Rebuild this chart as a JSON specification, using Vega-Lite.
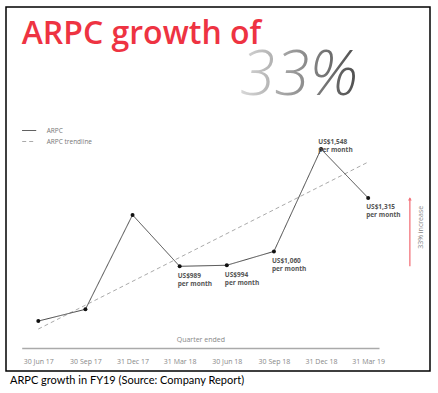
{
  "$schema": "https://vega.github.io/schema/vega-lite/v6.json",
  "autosize": {"type": "none"},
  "padding": {"left": 6, "top": 7, "right": 8, "bottom": 22},
  "width": 424,
  "height": 364,
  "background": "white",
  "config": {
    "view": {"stroke": "#000", "strokeWidth": 1.5},
    "font": "Open Sans",
    "text": {"lineBreak": "\n"},
    "legend": {
      "orient": "none", "legendX": 15.7, "legendY": 116, "title": null,
      "symbolType": "stroke", "symbolSize": 196, "symbolStrokeWidth": 1,
      "labelFontSize": 6.5, "labelColor": "#777777", "labelOffset": 10,
      "rowPadding": -4, "labelFont": "Open Sans"
    }
  },
  "datasets": {
    "arpc": [
      {"q": "30 Jun 17", "i": 0, "arpc": 728},
      {"q": "30 Sep 17", "i": 1, "arpc": 784},
      {"q": "31 Dec 17", "i": 2, "arpc": 1234},
      {"q": "31 Mar 18", "i": 3, "arpc": 989, "label": "US$989\nper month"},
      {"q": "30 Jun 18", "i": 4, "arpc": 994, "label": "US$994\nper month"},
      {"q": "30 Sep 18", "i": 5, "arpc": 1060, "label": "US$1,060\nper month"},
      {"q": "31 Dec 18", "i": 6, "arpc": 1548, "label": "US$1,548\nper month"},
      {"q": "31 Mar 19", "i": 7, "arpc": 1315, "label": "US$1,315\nper month"}
    ],
    "trend": [
      {"i": 0, "trend": 690},
      {"i": 7, "trend": 1486}
    ],
    "increase": [
      {"from": 989, "to": 1315, "text": "33% increase"}
    ]
  },
  "layer": [
    {
      "data": {"name": "trend"},
      "mark": {"type": "line", "strokeWidth": 1},
      "encoding": {
        "x": {
          "field": "i", "type": "quantitative",
          "scale": {"domain": [-0.352, 7.23], "range": [15.7, 373], "nice": false, "zero": false},
          "axis": {
            "values": [0, 1, 2, 3, 4, 5, 6, 7],
            "labelExpr": "['30 Jun 17','30 Sep 17','31 Dec 17','31 Mar 18','30 Jun 18','30 Sep 18','31 Dec 18','31 Mar 19'][datum.value]",
            "offset": -23,
            "ticks": false,
            "tickSize": 0,
            "grid": false,
            "domainColor": "#aaaaaa",
            "domainWidth": 1.5,
            "labelFontSize": 7,
            "labelColor": "#888888",
            "labelPadding": 9,
            "labelFont": "Open Sans",
            "title": "Quarter ended",
            "titleY": -7,
            "titleBaseline": "alphabetic",
            "titleFontSize": 7,
            "titleFontWeight": "normal",
            "titleColor": "#888888",
            "titleFont": "Open Sans"
          }
        },
        "y": {
          "field": "trend", "type": "quantitative",
          "scale": {"domain": [490, 2225], "nice": false, "zero": false},
          "axis": null
        },
        "strokeDash": {
          "datum": "ARPC trendline",
          "scale": {"domain": ["ARPC", "ARPC trendline"], "range": [[1, 0], [4, 3]]}
        },
        "color": {
          "datum": "ARPC trendline",
          "scale": {"domain": ["ARPC", "ARPC trendline"], "range": ["#444444", "#aaaaaa"]}
        }
      }
    },
    {
      "data": {"name": "arpc"},
      "mark": {"type": "line", "strokeWidth": 1},
      "encoding": {
        "x": {"field": "i", "type": "quantitative"},
        "y": {"field": "arpc", "type": "quantitative"},
        "strokeDash": {"datum": "ARPC"},
        "color": {"datum": "ARPC"}
      }
    },
    {
      "data": {"name": "arpc"},
      "mark": {"type": "point", "filled": true, "size": 16, "color": "#111111", "opacity": 1},
      "encoding": {
        "x": {"field": "i", "type": "quantitative"},
        "y": {"field": "arpc", "type": "quantitative"}
      }
    },
    {
      "data": {"name": "arpc"},
      "transform": [{"filter": "datum.label && datum.q != '31 Dec 18'"}],
      "mark": {"type": "text", "align": "left", "baseline": "top", "dx": -2, "dy": 6.5, "fontSize": 6.5, "fontWeight": "bold", "color": "#555555", "lineHeight": 8},
      "encoding": {
        "x": {"field": "i", "type": "quantitative"},
        "y": {"field": "arpc", "type": "quantitative"},
        "text": {"field": "label"}
      }
    },
    {
      "data": {"name": "arpc"},
      "transform": [{"filter": "datum.q == '31 Dec 18'"}],
      "mark": {"type": "text", "align": "left", "baseline": "bottom", "dx": -2.7, "dy": -4, "fontSize": 6.5, "fontWeight": "bold", "color": "#555555", "lineHeight": 8},
      "encoding": {
        "x": {"field": "i", "type": "quantitative"},
        "y": {"field": "arpc", "type": "quantitative"},
        "text": {"field": "label"}
      }
    },
    {
      "data": {"name": "increase"},
      "mark": {"type": "rule", "color": "#F2737B", "strokeWidth": 1.3},
      "encoding": {
        "x": {"datum": 7.885},
        "y": {"field": "from", "type": "quantitative"},
        "y2": {"field": "to"}
      }
    },
    {
      "data": {"name": "increase"},
      "mark": {"type": "point", "shape": "triangle-up", "filled": true, "size": 14, "color": "#F2737B", "opacity": 1, "yOffset": 1},
      "encoding": {
        "x": {"datum": 7.885},
        "y": {"field": "to", "type": "quantitative"}
      }
    },
    {
      "data": {"name": "increase"},
      "mark": {"type": "text", "angle": 270, "align": "center", "baseline": "middle", "fontSize": 7, "color": "#888888"},
      "encoding": {
        "x": {"datum": 8.112},
        "y": {"datum": 1175},
        "text": {"field": "text"}
      }
    },
    {
      "data": {"values": [{"headline": "ARPC growth of"}]},
      "mark": {"type": "text", "align": "left", "baseline": "alphabetic", "fontSize": 32, "fontWeight": 600, "font": "Open Sans", "color": "#EE3342"},
      "encoding": {
        "x": {"datum": -0.352},
        "y": {"datum": 2049},
        "text": {"field": "headline"}
      }
    },
    {
      "data": {"values": [{"big": "33%"}]},
      "mark": {
        "type": "text", "align": "left", "baseline": "alphabetic", "fontSize": 63, "fontStyle": "italic", "fontWeight": 300, "font": "Open Sans",
        "color": {"gradient": "linear", "x1": 0, "x2": 1, "y1": 0, "y2": 0, "stops": [{"offset": 0, "color": "#d9d9d9"}, {"offset": 1, "color": "#4d4d4d"}]}
      },
      "encoding": {
        "x": {"datum": 4.279},
        "y": {"datum": 1805},
        "text": {"field": "big"}
      }
    },
    {
      "data": {"values": [{"caption": "ARPC growth in FY19 (Source: Company Report)"}]},
      "mark": {"type": "text", "align": "left", "baseline": "middle", "fontSize": 11, "font": "Lato", "color": "#000000"},
      "encoding": {
        "x": {"datum": -0.6},
        "y": {"datum": 440},
        "text": {"field": "caption"}
      }
    }
  ]
}
